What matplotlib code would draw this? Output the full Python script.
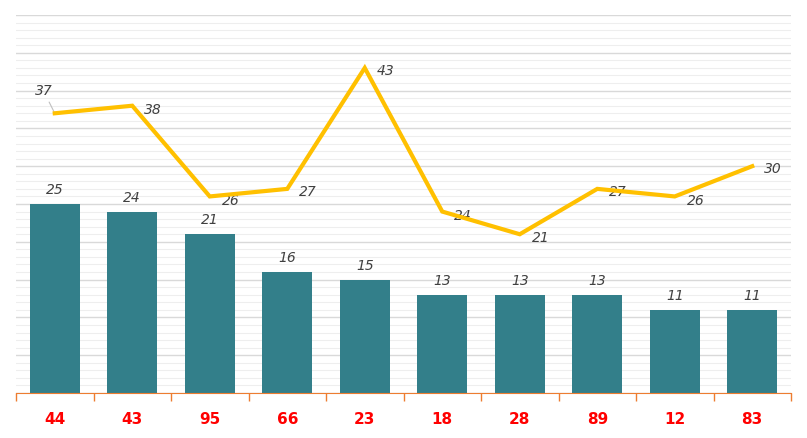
import numpy as np
import matplotlib
matplotlib.use('Agg')
import matplotlib.pyplot as plt
from matplotlib.ticker import MultipleLocator, FixedLocator

# Datos
categorias = ["44", "43", "95", "66", "23", "18", "28", "89", "12", "83"]
barras = [25, 24, 21, 16, 15, 13, 13, 13, 11, 11]
linea = [37, 38, 26, 27, 43, 24, 21, 27, 26, 30]

color_barra = "#337F8A"
color_linea = "#FFC000"
color_texto = "#404040"

fig = plt.figure(figsize=(8.07, 4.38), dpi=100)
ax = fig.add_axes([16 / 807, 45 / 438, 775 / 807, 378 / 438])

x = np.arange(len(categorias))
ax.bar(x, barras, width=0.645, color=color_barra, zorder=3)
ax.plot(x, linea, color=color_linea, lw=3, zorder=4, solid_joinstyle="miter")

# Etiquetas de las barras
for xi, v in zip(x, barras):
    ax.annotate(str(v), (xi, v), xytext=(0, 5), textcoords="offset points",
                ha="center", va="bottom", fontsize=10, style="italic", color=color_texto)

# Etiquetas de la linea
for i, (xi, v) in enumerate(zip(x, linea)):
    if i == 0:
        ax.annotate(str(v), (xi, v), xytext=(-8, 16), textcoords="offset points",
                    ha="center", va="center", fontsize=10, style="italic", color=color_texto,
                    arrowprops=dict(arrowstyle="-", color="#BFBFBF", lw=0.8, shrinkA=1, shrinkB=0))
    else:
        dy = -3 if v < linea[i - 1] or i in (1, 8) else -2
        ax.annotate(str(v), (xi, v), xytext=(15, dy), textcoords="offset points",
                    ha="center", va="center", fontsize=10, style="italic", color=color_texto)

ax.set_xlim(-0.5, len(categorias) - 0.5)
ax.set_ylim(0, 50)

# Rejilla
ax.yaxis.set_major_locator(MultipleLocator(5))
ax.yaxis.set_minor_locator(MultipleLocator(1))
ax.grid(axis="y", which="major", color="#D9D9D9", lw=1, zorder=0)
ax.grid(axis="y", which="minor", color="#EEEEEE", lw=0.8, zorder=0)
ax.tick_params(axis="y", which="both", left=False, labelleft=False)

# Eje x
ax.set_xticks(x)
ax.set_xticklabels(categorias, color="red", fontweight="bold", fontsize=11)
ax.xaxis.set_minor_locator(FixedLocator(np.arange(-0.5, len(categorias), 1)))
ax.tick_params(axis="x", which="major", length=0, pad=14)
ax.tick_params(axis="x", which="minor", length=6, color="#ED7D31", width=1)

for s in ["top", "left", "right"]:
    ax.spines[s].set_visible(False)
ax.spines["bottom"].set_color("#ED7D31")
ax.spines["bottom"].set_zorder(5)

fig.savefig("out.png", dpi=100)
